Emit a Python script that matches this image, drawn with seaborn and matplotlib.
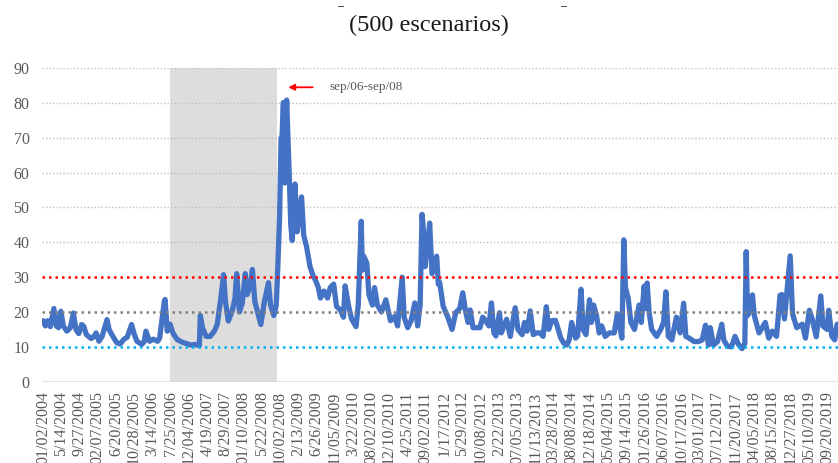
import matplotlib
matplotlib.use("Agg")
import matplotlib.pyplot as plt
from matplotlib.lines import Line2D
import seaborn as sns
import pandas as pd

# ---------------- data ----------------
dates = [
    "2004-01-02", "2004-01-20", "2004-02-05", "2004-02-25", "2004-03-22", "2004-04-08",
    "2004-04-25", "2004-05-12", "2004-05-30", "2004-06-25", "2004-07-20", "2004-08-12",
    "2004-08-30", "2004-09-20", "2004-10-12", "2004-10-25", "2004-11-15", "2004-12-20",
    "2005-01-10", "2005-01-25", "2005-02-15", "2005-03-10", "2005-04-15", "2005-04-30",
    "2005-05-20", "2005-06-25", "2005-07-20", "2005-08-15", "2005-09-10", "2005-10-12",
    "2005-10-28", "2005-11-20", "2005-12-25", "2006-01-12", "2006-01-25", "2006-02-20",
    "2006-03-20", "2006-04-20", "2006-05-05", "2006-05-20", "2006-06-08", "2006-06-14",
    "2006-06-30", "2006-07-20", "2006-08-10", "2006-09-10", "2006-10-20", "2006-11-20",
    "2006-12-20", "2007-01-20", "2007-02-20", "2007-02-27", "2007-03-15", "2007-04-10",
    "2007-05-10", "2007-06-10", "2007-07-01", "2007-07-26", "2007-08-16", "2007-08-30",
    "2007-09-20", "2007-10-20", "2007-11-08", "2007-11-20", "2007-12-10", "2007-12-31",
    "2008-01-22", "2008-02-05", "2008-03-01", "2008-03-14", "2008-04-01", "2008-04-20",
    "2008-05-15", "2008-06-10", "2008-07-10", "2008-07-25", "2008-08-18", "2008-09-05",
    "2008-09-15", "2008-09-29", "2008-10-10", "2008-10-17", "2008-10-27", "2008-11-05",
    "2008-11-20", "2008-12-01", "2008-12-10", "2008-12-20", "2008-12-31", "2009-01-20",
    "2009-02-05", "2009-02-20", "2009-03-09", "2009-03-25", "2009-04-15", "2009-05-10",
    "2009-06-01", "2009-06-20", "2009-07-10", "2009-07-25", "2009-08-20", "2009-09-15",
    "2009-10-05", "2009-10-30", "2009-11-20", "2009-12-20", "2010-01-10", "2010-01-22",
    "2010-02-15", "2010-03-10", "2010-04-12", "2010-04-28", "2010-05-20", "2010-05-28",
    "2010-06-07", "2010-06-30", "2010-07-15", "2010-08-10", "2010-08-25", "2010-09-15",
    "2010-10-15", "2010-11-16", "2010-12-20", "2011-01-20", "2011-02-10", "2011-03-16",
    "2011-03-30", "2011-04-25", "2011-05-20", "2011-06-16", "2011-07-07", "2011-07-25",
    "2011-08-08", "2011-08-18", "2011-08-30", "2011-09-12", "2011-09-22", "2011-10-03",
    "2011-10-20", "2011-11-23", "2011-12-05", "2011-12-15", "2012-01-10", "2012-02-10",
    "2012-03-15", "2012-04-10", "2012-05-10", "2012-06-01", "2012-06-20", "2012-07-10",
    "2012-07-25", "2012-08-15", "2012-10-05", "2012-10-25", "2012-11-15", "2012-12-10",
    "2012-12-28", "2013-01-15", "2013-01-30", "2013-02-25", "2013-03-10", "2013-04-18",
    "2013-05-15", "2013-06-20", "2013-07-10", "2013-08-10", "2013-08-27", "2013-09-15",
    "2013-10-08", "2013-10-30", "2013-11-20", "2013-12-20", "2014-01-10", "2014-02-03",
    "2014-02-20", "2014-03-15", "2014-04-11", "2014-05-20", "2014-06-10", "2014-07-03",
    "2014-07-20", "2014-08-07", "2014-09-05", "2014-09-20", "2014-10-15", "2014-10-30",
    "2014-11-20", "2014-12-16", "2014-12-30", "2015-01-15", "2015-02-05", "2015-02-25",
    "2015-03-15", "2015-04-10", "2015-05-10", "2015-06-15", "2015-07-08", "2015-08-10",
    "2015-08-24", "2015-09-05", "2015-09-25", "2015-10-15", "2015-11-10", "2015-12-14",
    "2015-12-30", "2016-01-20", "2016-01-30", "2016-02-11", "2016-02-25", "2016-03-15",
    "2016-04-20", "2016-05-20", "2016-06-10", "2016-06-27", "2016-07-15", "2016-08-10",
    "2016-09-12", "2016-10-10", "2016-11-04", "2016-11-20", "2016-12-15", "2017-01-20",
    "2017-02-20", "2017-03-20", "2017-04-13", "2017-05-05", "2017-05-18", "2017-06-10",
    "2017-07-10", "2017-08-10", "2017-08-25", "2017-09-20", "2017-10-20", "2017-11-15",
    "2017-12-10", "2018-01-05", "2018-01-26", "2018-02-05", "2018-02-15", "2018-02-28",
    "2018-03-23", "2018-04-05", "2018-05-10", "2018-06-25", "2018-07-20", "2018-08-15",
    "2018-09-15", "2018-10-11", "2018-10-25", "2018-11-12", "2018-12-24", "2019-01-10",
    "2019-02-10", "2019-03-22", "2019-04-15", "2019-05-13", "2019-06-03", "2019-07-03",
    "2019-08-05", "2019-08-20", "2019-09-20", "2019-10-02", "2019-10-25", "2019-11-15",
    "2019-12-03", "2019-12-31",
]
vix = [
    17.5, 16.0, 17.5, 15.8, 21.0, 16.0,
    15.5, 20.2, 16.0, 14.5, 15.5, 19.7,
    15.0, 13.8, 16.4, 16.0, 13.5, 12.4,
    13.0, 14.0, 11.6, 13.0, 17.8, 15.0,
    13.5, 11.2, 10.8, 12.1, 12.8, 16.4,
    14.0, 11.6, 10.7, 11.5, 14.5, 11.6,
    12.2, 11.6, 12.5, 17.0, 23.0, 23.6,
    14.5, 16.5, 14.0, 12.1, 11.3, 10.9,
    10.5, 10.7, 10.3, 19.0, 15.5, 13.0,
    13.0, 14.5, 16.5, 23.6, 30.7, 23.0,
    17.4, 20.5, 24.0, 31.0, 20.0, 22.5,
    31.0, 25.0, 28.0, 32.2, 23.0, 20.2,
    16.4, 23.0, 28.4, 22.0, 19.0, 22.0,
    31.7, 46.7, 69.9, 70.3, 80.1, 57.0,
    80.8, 68.5, 58.0, 45.0, 40.5, 56.7,
    43.0, 48.0, 53.0, 42.0, 38.7, 33.0,
    30.5, 29.0, 27.0, 24.0, 26.0, 24.0,
    27.0, 28.0, 21.6, 20.5, 18.5, 27.5,
    22.0, 18.0, 15.8, 22.0, 46.0, 32.0,
    36.0, 34.0, 25.0, 22.0, 27.0, 22.0,
    20.0, 23.5, 17.5, 18.7, 16.0, 30.0,
    18.5, 15.5, 17.5, 22.6, 16.0, 22.0,
    48.0, 43.6, 33.0, 38.0, 41.0, 45.5,
    31.0, 36.0, 28.0, 28.5, 21.6, 18.8,
    15.0, 19.8, 21.0, 25.5, 20.6, 17.0,
    20.6, 15.5, 15.5, 18.5, 17.5, 16.0,
    22.6, 14.0, 13.1, 19.8, 14.0, 17.9,
    13.0, 21.2, 15.0, 13.5, 17.0, 14.5,
    20.3, 13.5, 14.0, 14.0, 13.0, 21.5,
    15.0, 17.5, 17.6, 12.5, 11.1, 10.5,
    12.0, 17.0, 12.5, 13.1, 26.5, 15.0,
    13.5, 23.5, 17.0, 22.0, 19.0, 14.0,
    16.0, 13.0, 14.0, 14.0, 19.5, 12.5,
    40.7, 27.0, 24.0, 17.0, 15.0, 22.0,
    17.0, 27.4, 21.0, 28.3, 20.0, 15.0,
    13.0, 15.0, 17.0, 25.8, 13.0, 12.0,
    18.5, 14.0, 22.5, 13.0, 12.5, 11.5,
    11.5, 12.0, 16.2, 10.5, 15.5, 10.5,
    11.5, 16.5, 12.0, 10.2, 10.0, 13.0,
    10.7, 9.5, 11.0, 37.3, 19.0, 20.0,
    24.9, 19.0, 14.0, 17.0, 12.5, 14.5,
    13.0, 24.8, 25.0, 18.0, 36.1, 19.5,
    15.5, 16.5, 12.5, 20.5, 18.0, 12.9,
    24.6, 16.0, 15.0, 20.5, 13.0, 12.0,
    16.5, 13.8,
]
tick_labels = [
    "01/02/2004", "5/14/2004", "9/27/2004", "02/07/2005", "6/20/2005", "10/28/2005",
    "3/14/2006", "7/25/2006", "12/04/2006", "4/19/2007", "8/29/2007", "01/10/2008",
    "5/22/2008", "10/02/2008", "2/13/2009", "6/26/2009", "11/05/2009", "3/22/2010",
    "08/02/2010", "12/10/2010", "4/25/2011", "09/02/2011", "1/17/2012", "5/29/2012",
    "10/08/2012", "2/22/2013", "07/05/2013", "11/13/2013", "03/28/2014", "08/08/2014",
    "12/18/2014", "05/04/2015", "09/14/2015", "01/26/2016", "06/07/2016", "10/17/2016",
    "03/01/2017", "07/12/2017", "11/20/2017", "04/05/2018", "08/15/2018", "12/27/2018",
    "05/10/2019", "09/20/2019",
]
y_ticks = [0, 10, 20, 30, 40, 50, 60, 70, 80, 90]
ref_levels = [30, 20, 10]
ref_colors = ["#FF0000", "#808080", "#00B0F0"]
shade_start, shade_end = "2006-07-20", "2008-09-10"
title = "(500 escenarios)"
note = "sep/06-sep/08"

# ---------------- plot ----------------
sns.set_theme(style="white")
plt.rcParams["font.family"] = ["Liberation Serif", "DejaVu Serif"]

df = pd.DataFrame({"date": pd.to_datetime(dates), "vix": vix})
tick_pos = pd.to_datetime(tick_labels, format="%m/%d/%Y")

fig = plt.figure(figsize=(8.38, 4.63), dpi=100)
ax = fig.add_axes([42 / 838, 1 - 381.7 / 463, 1 - 42 / 838, (381.7 - 68) / 463])

ax.axvspan(pd.Timestamp(shade_start), pd.Timestamp(shade_end),
           color="#DDDDDD", zorder=0, lw=0)

for yv in y_ticks[1:]:
    if yv not in ref_levels:
        ax.axhline(yv, color="#BFBFBF", lw=1.0, ls=(0, (1, 1.5)), zorder=1)

sns.lineplot(data=df, x="date", y="vix", ax=ax, color="#4472C4", lw=3.8,
             zorder=3, legend=False)

for lev, col in zip(ref_levels, ref_colors):
    ax.axhline(lev, color=col, lw=1.8, ls=(0, (1, 1.6)), zorder=4)

ax.axhline(0, color="#D9D9D9", lw=1.8, zorder=2)

ax.set_ylim(0, 90)
ax.set_xlim(pd.Timestamp("2003-12-26"), pd.Timestamp("2019-12-09"))
ax.set_yticks(y_ticks)
ax.set_yticklabels([str(v) for v in y_ticks])
ax.set_xticks(tick_pos)
ax.set_xticklabels(tick_labels, rotation=90, va="top", ha="center")
ax.tick_params(axis="y", length=0, pad=9, labelsize=11.5, labelcolor="#595959")
ax.tick_params(axis="x", length=0, pad=7, labelsize=11.5, labelcolor="#595959")
ax.set_xlabel("")
ax.set_ylabel("")
ax.grid(False)
for s in ax.spines.values():
    s.set_visible(False)

# annotation
ax.annotate("", xy=(0.3094, 0.9385), xytext=(0.3401, 0.9385),
            xycoords="axes fraction", textcoords="axes fraction",
            arrowprops=dict(arrowstyle="-|>", color="#FF0000", lw=1.3,
                            mutation_scale=9, shrinkA=0, shrinkB=0))
ax.text(0.3606, 0.9385, note, transform=ax.transAxes, fontsize=9.5,
        color="#595959", va="center", ha="left")

fig.text(428.5 / 838, 1 - 30.7 / 463, title, fontsize=17.5, color="#1a1a1a",
         ha="center", va="baseline")
# remnants of a cropped line above the title
fig.add_artist(Line2D([338 / 838, 343 / 838], [1 - 6 / 463, 1 - 6 / 463],
                      color="#555555", lw=0.8))
fig.add_artist(Line2D([561 / 838, 566 / 838], [1 - 6 / 463, 1 - 6 / 463],
                      color="#555555", lw=0.8))

fig.savefig("out.png", dpi=100)
